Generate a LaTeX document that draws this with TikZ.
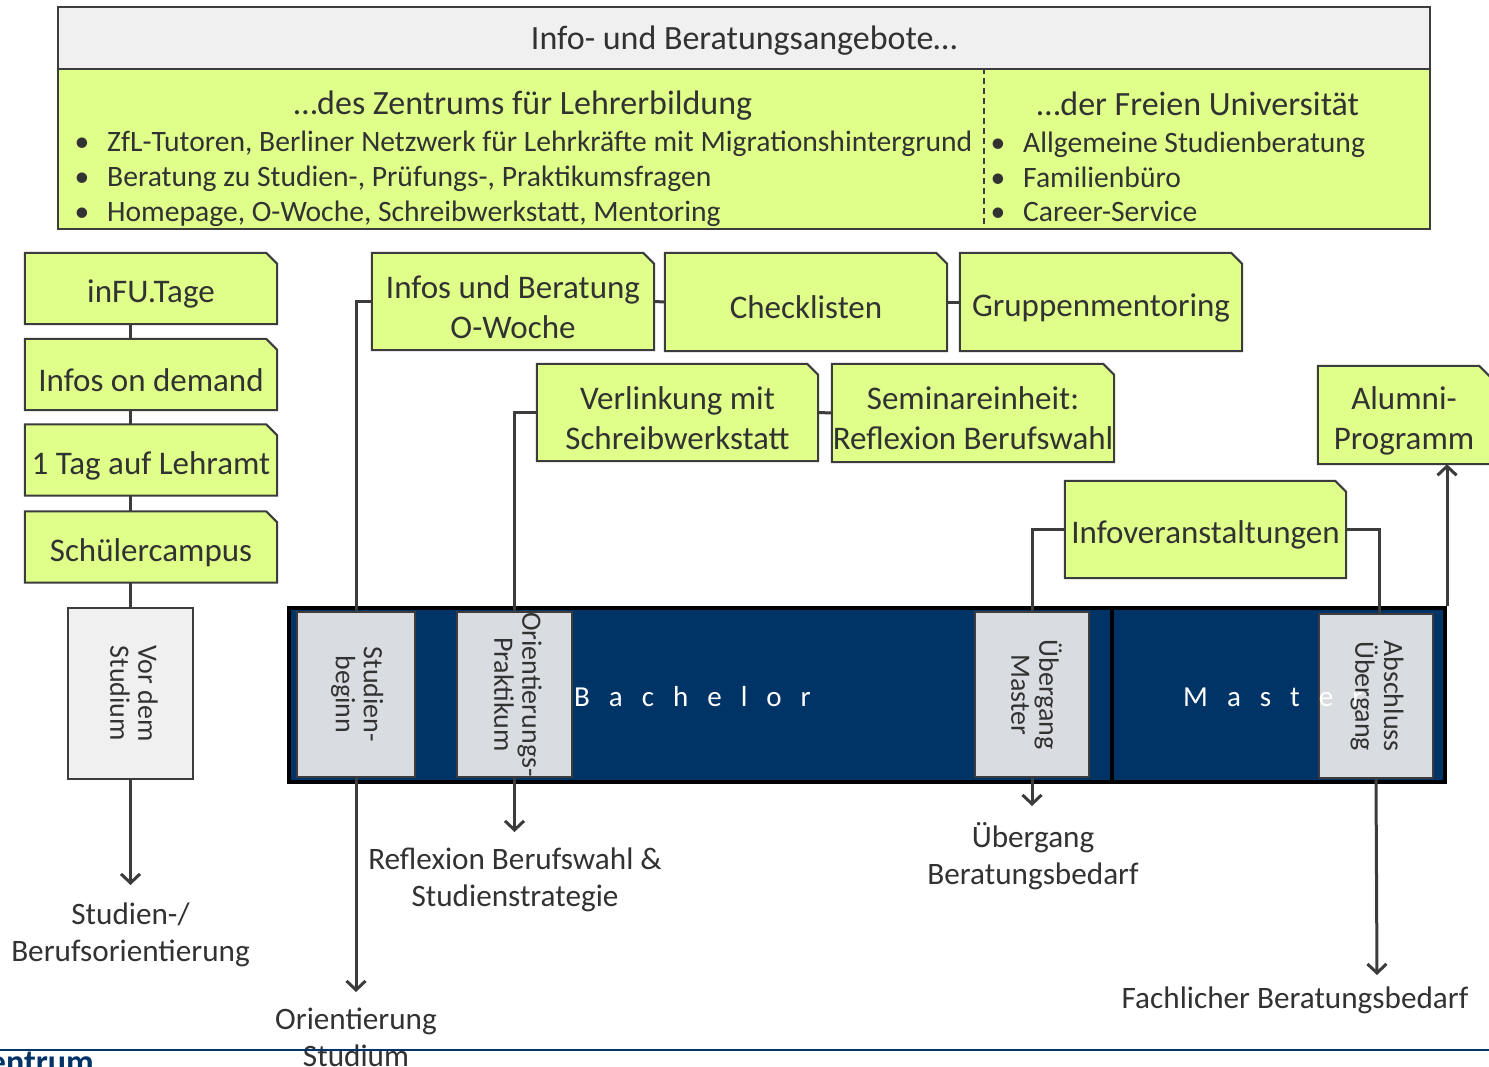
\documentclass[tikz,border=0pt]{standalone}
\usepackage{fontspec}
\setmainfont{Carlito}
\usetikzlibrary{arrows.meta}
\definecolor{boxgreen}{RGB}{224,255,138}
\definecolor{edgegray}{RGB}{60,60,60}
\definecolor{txt}{RGB}{50,50,50}
\definecolor{navy}{RGB}{0,51,102}
\definecolor{stagegray}{RGB}{217,221,225}
\definecolor{hdrgray}{RGB}{240,240,240}
\newcommand\fs[2]{\fontsize{#1}{#2}\selectfont}
\newcommand\lsp{\hspace{19pt}}
\tikzset{
  every node/.style={text=txt},
  greenbox/.style={rectangle, inner sep=0pt,
    append after command={\pgfextra{\let\gbnode\tikzlastnode
      \filldraw[draw=edgegray, line width=2pt, fill=boxgreen, line join=miter]
        (\gbnode.south west) -- (\gbnode.north west) -- ([xshift=-11pt]\gbnode.north east)
        -- ([yshift=-11pt]\gbnode.north east) -- (\gbnode.south east) -- cycle;}}},
  gtext/.style={align=center, font=\fs{33}{40}, inner sep=0pt, yshift=-5.5pt},
  gbox/.style={greenbox, label={[gtext]center:{#1}}},
  stagebox/.style={rectangle, draw=edgegray, line width=2pt, fill=stagegray, inner sep=0pt, align=center, font=\fs{28}{31}},
  conn/.style={draw=edgegray, line width=3pt},
  arr/.style={conn, -{Straight Barb[length=9pt,width=19pt]}},
  lbl/.style={align=center, font=\fs{31.2}{37}, inner sep=0pt},
  bul/.style={anchor=base west, font=\fs{29.6}{34}, inner sep=0pt},
  dot/.style={anchor=base, font=\fs{29.6}{34}, inner sep=0pt},
  sub/.style={anchor=base, font=\fs{34}{38}, inner sep=0pt},
  spaced/.style={anchor=west, text=white, font=\fs{29}{30}, inner sep=0pt},
}
\begin{document}
\begin{tikzpicture}[x=1pt,y=-1pt]
\useasboundingbox (0,0) rectangle (1489,1066);
\fill[white] (0,0) rectangle (1489,1066);

% header
\node[draw=edgegray, line width=2pt, fill=hdrgray, minimum width=1372pt, minimum height=62pt, inner sep=0pt,
  label={[inner sep=0pt, font=\fs{34}{38}, yshift=-3pt]center:{Info- und Beratungsangebote…}}] (hdr) at (744,38) {};
\node[draw=edgegray, line width=2pt, fill=boxgreen, minimum width=1372pt, minimum height=160pt, inner sep=0pt] (panel) at (744,149) {};
\draw[edgegray, line width=1.5pt, dash pattern=on 6pt off 4pt] ([xshift=240pt]panel.north) -- ([xshift=240pt]panel.south);

\node[sub] (zfl) at (523,114) {…des Zentrums für Lehrerbildung};
\node[dot] (d1) at (82,151) {•};
\node[bul] (l1) at (107,151) {ZfL-Tutoren, Berliner Netzwerk für Lehrkräfte mit Migrationshintergrund};
\node[dot] (d2) at (82,186) {•};
\node[bul] (l2) at (107,186) {Beratung zu Studien-, Prüfungs-, Praktikumsfragen};
\node[dot] (d3) at (82,221) {•};
\node[bul] (l3) at (107,221) {Homepage, O-Woche, Schreibwerkstatt, Mentoring};

\node[sub] (fu) at (1198,115) {…der Freien Universität};
\node[dot] (d4) at (998,152) {•};
\node[bul] (r1) at (1023,152) {Allgemeine Studienberatung};
\node[dot] (d5) at (998,187) {•};
\node[bul] (r2) at (1023,187) {Familienbüro};
\node[dot] (d6) at (998,221) {•};
\node[bul] (r3) at (1023,221) {Career-Service};

% left column
\node[gbox={inFU.Tage}, minimum width=252pt, minimum height=71pt] (infu) at (151,288.5) {};
\node[gbox={Infos on demand}, minimum width=252pt, minimum height=71pt] (demand) at (151,374.5) {};
\node[gbox={1 Tag auf Lehramt}, minimum width=252pt, minimum height=71pt] (tag) at (151,460) {};
\node[gbox={Schülercampus}, minimum width=252pt, minimum height=71pt] (schueler) at (151,547) {};
\node[stagebox, fill=hdrgray, minimum width=125pt, minimum height=171pt] (vor) at (130.5,693.5) {\rotatebox{-90}{\begin{tabular}{@{}c@{}}Vor dem\\[-3pt]Studium\end{tabular}}};

\draw[conn] (vor.north |- infu.south) -- (vor.north |- demand.north);
\draw[conn] (vor.north |- demand.south) -- (vor.north |- tag.north);
\draw[conn] (vor.north |- tag.south) -- (vor.north |- schueler.north);
\draw[conn] (vor.north |- schueler.south) -- (vor.north);
\coordinate (vorend) at (130.5,885);
\draw[arr] (vor.south) -- (vorend);
\node[lbl, anchor=north] (vorlbl) at (130.5,903) {Studien-/\\Berufsorientierung};

% top boxes
\node[gbox={Infos und Beratung\\O-Woche}, minimum width=282pt, minimum height=97pt] (owoche) at (513,301.5) {};
\node[gbox={Checklisten}, minimum width=282pt, minimum height=98pt] (check) at (806,302) {};
\node[gbox={Gruppenmentoring}, minimum width=282pt, minimum height=98pt] (grupp) at (1101,302) {};
\node[gbox={Verlinkung mit\\Schreibwerkstatt}, minimum width=281pt, minimum height=97pt] (verl) at (677.5,412.5) {};
\node[gbox={Seminareinheit:\\Reflexion Berufswahl}, minimum width=282pt, minimum height=98pt] (sem) at (973,413) {};
\node[gbox={Infoveranstaltungen}, minimum width=281pt, minimum height=97pt] (infov) at (1205.5,529.5) {};
\node[gbox={Alumni-\\Programm}, minimum width=172pt, minimum height=98pt] (alumni) at (1404,415) {};

\draw[conn] (owoche.east) -- (check.west);
\draw[conn] (check.east) -- (grupp.west);
\draw[conn] (verl.east) -- (sem.west);

% bar
\node[draw=black, line width=4pt, fill=navy, minimum width=1156pt, minimum height=174pt, inner sep=0pt] (bar) at (867,695) {};
\draw[black, line width=4pt] ([xshift=245pt]bar.north) -- ([xshift=245pt]bar.south);
\node[spaced] (bach) at (574,697) {B\lsp a\lsp c\lsp h\lsp e\lsp l\lsp o\lsp r};

\node[stagebox, minimum width=118pt, minimum height=165pt] (sb) at (356,694.5) {\rotatebox{-90}{\begin{tabular}{@{}c@{}}Studien-\\[-3pt]beginn\end{tabular}}};
\node[stagebox, minimum width=115pt, minimum height=165pt] (op) at (514.5,694.5) {\rotatebox{-90}{\begin{tabular}{@{}c@{}}Orientierungs-\\[-3pt]Praktikum\end{tabular}}};
\node[stagebox, minimum width=114pt, minimum height=165pt] (um) at (1032,694.5) {\rotatebox{-90}{\begin{tabular}{@{}c@{}}Übergang\\[-3pt]Master\end{tabular}}};
\node[stagebox, minimum width=114pt, minimum height=164pt] (ab) at (1376,696) {\rotatebox{-90}{\begin{tabular}{@{}c@{}}Abschluss\\[-3pt]Übergang\end{tabular}}};
\node[spaced] (mast) at (1183,697) {M\lsp a\lsp s\lsp t\lsp e\lsp r};

% connectors to bar
\draw[conn] (owoche.west) -| (sb.north);
\draw[conn] (verl.west) -| (op.north);
\draw[conn] (infov.west) -| (um.north);
\draw[conn] (infov.east) -| ([xshift=3pt]ab.north);
\draw[arr] (bar.north east) -- (bar.north east |- alumni.south);

% arrows down
\coordinate (sbend) at (356,992);
\draw[arr] (sb.south) -- (sbend);
\node[lbl, anchor=north] (sblbl) at (356,1008) {Orientierung\\Studium};
\coordinate (opend) at (514.5,832);
\draw[arr] (op.south) -- (opend);
\node[lbl, anchor=north] (oplbl) at (515,848) {Reflexion Berufswahl \&\\Studienstrategie};
\coordinate (umend) at (1032,806);
\draw[arr] (um.south) -- (umend);
\node[lbl, anchor=north] (umlbl) at (1033,822) {Übergang\\Beratungsbedarf};
\coordinate (abend) at (1377,975);
\draw[arr] (ab.south) -- (abend);
\node[lbl, anchor=north] (ablbl) at (1295,987) {Fachlicher Beratungsbedarf};

% footer
\node[anchor=base east, text=navy, font=\fs{34}{34}\bfseries, inner sep=0pt] (zen) at (94,1073) {Zentrum};
\draw[navy, line width=2.5pt] (0,1050) -- (1489,1050);
\end{tikzpicture}
\end{document}
